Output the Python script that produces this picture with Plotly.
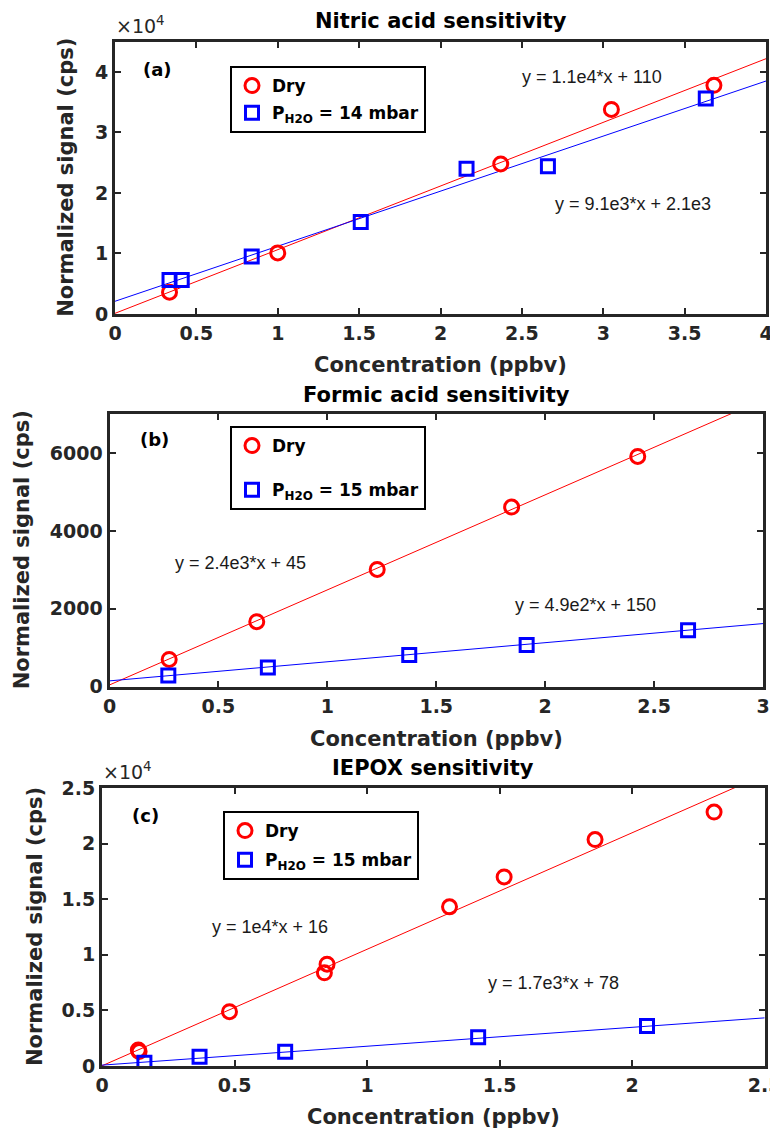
import plotly.graph_objects as go
from plotly.subplots import make_subplots

W, H = 770, 1130

# ---- Panel (a): nitric acid ----
a_dry_x = [0.335, 1.0, 2.37, 3.05, 3.68]
a_dry_y = [3600, 10100, 24800, 33800, 37800]
a_wet_x = [0.335, 0.41, 0.84, 1.51, 2.16, 2.66, 3.63]
a_wet_y = [5600, 5600, 9500, 15200, 24000, 24400, 35600]
a_fit_dry = [10520, 110]
a_fit_wet = [9100, 2100]
a_xticks = [0, 0.5, 1, 1.5, 2, 2.5, 3, 3.5, 4]
a_xtext = ["0", "0.5", "1", "1.5", "2", "2.5", "3", "3.5", "4"]
a_yticks = [0, 10000, 20000, 30000, 40000]
a_ytext = ["0", "1", "2", "3", "4"]

# ---- Panel (b): formic acid ----
b_dry_x = [0.274, 0.676, 1.229, 1.846, 2.425]
b_dry_y = [700, 1670, 3010, 4610, 5910]
b_wet_x = [0.27, 0.727, 1.376, 1.915, 2.656]
b_wet_y = [290, 490, 815, 1070, 1450]
b_fit_dry = [2440, 45]
b_fit_wet = [490, 150]
b_xticks = [0, 0.5, 1, 1.5, 2, 2.5, 3]
b_xtext = ["0", "0.5", "1", "1.5", "2", "2.5", "3"]
b_yticks = [0, 2000, 4000, 6000]
b_ytext = ["0", "2000", "4000", "6000"]

# ---- Panel (c): IEPOX ----
c_dry_x = [0.137, 0.14, 0.481, 0.839, 0.849, 1.311, 1.517, 1.86, 2.309]
c_dry_y = [1440, 1300, 4880, 8380, 9160, 14310, 17000, 20360, 22840]
c_wet_x = [0.16, 0.368, 0.691, 1.419, 2.056]
c_wet_y = [300, 840, 1290, 2575, 3590]
c_fit_dry = [10480, 16]
c_fit_wet = [1700, 78]
c_xticks = [0, 0.5, 1, 1.5, 2, 2.5]
c_xtext = ["0", "0.5", "1", "1.5", "2", "2.5"]
c_yticks = [0, 5000, 10000, 15000, 20000, 25000]
c_ytext = ["0", "0.5", "1", "1.5", "2", "2.5"]

titles = ["Nitric acid sensitivity", "Formic acid sensitivity", "IEPOX sensitivity"]
panel_tags = ["(a)", "(b)", "(c)"]
wet_names = ["P<sub>H2O</sub> = 14 mbar", "P<sub>H2O</sub> = 15 mbar", "P<sub>H2O</sub> = 15 mbar"]

RED = "#ff0000"
BLUE = "#0000ff"
INK = "#262626"
BOLD = "DejaVu Sans"


def px_x(p):
    return p / W


def px_y(p):
    return 1 - p / H


def fmt_slope(v):
    m, e = f"{v:.2g}".split("e")
    return f"{m}e{int(e)}"


def fmt_icpt(v):
    s = f"{v:.2g}"
    if abs(float(s)) >= 1000:
        m, e = s.split("e")
        return f"{m}e{int(e)}"
    return str(int(float(s)))


def eq_text(fit):
    return f"y = {fmt_slope(fit[0])}*x + {fmt_icpt(fit[1])}"


panels = [
    dict(dx=a_dry_x, dy=a_dry_y, wx=a_wet_x, wy=a_wet_y, fd=a_fit_dry, fw=a_fit_wet,
         xt=a_xticks, xl=a_xtext, yt=a_yticks, yl=a_ytext, xr=[0, 4], yr=[0, 45000],
         box=(115, 766, 41.7, 314), exp=True,
         leg=(230, 66), gap=2, tag=(157, 69),
         eqs=[(592, 77), (633, 204)], title_y=21, xlab_y=365),
    dict(dx=b_dry_x, dy=b_dry_y, wx=b_wet_x, wy=b_wet_y, fd=b_fit_dry, fw=b_fit_wet,
         xt=b_xticks, xl=b_xtext, yt=b_yticks, yl=b_ytext, xr=[0, 3], yr=[0, 7000],
         box=(109.5, 763, 414, 686.7), exp=False,
         leg=(230, 426), gap=19, tag=(154, 440),
         eqs=[(240, 563), (585, 605)], title_y=395, xlab_y=739),
    dict(dx=c_dry_x, dy=c_dry_y, wx=c_wet_x, wy=c_wet_y, fd=c_fit_dry, fw=c_fit_wet,
         xt=c_xticks, xl=c_xtext, yt=c_yticks, yl=c_ytext, xr=[0, 2.5], yr=[0, 25000],
         box=(102, 764.7, 788, 1066), exp=True,
         leg=(223, 811), gap=4, tag=(145, 815),
         eqs=[(270, 927), (553, 983)], title_y=768, xlab_y=1117),
]

fig = make_subplots(rows=3, cols=1)
annotations = []

for i, p in enumerate(panels):
    row = i + 1
    leg_id = "legend" if i == 0 else f"legend{i + 1}"
    x0, x1 = p["xr"]
    # fitted lines
    for fit, col in ((p["fd"], RED), (p["fw"], BLUE)):
        fig.add_trace(go.Scatter(
            x=[x0, x1], y=[fit[0] * x0 + fit[1], fit[0] * x1 + fit[1]],
            mode="lines", line=dict(color=col, width=1), showlegend=False,
            hoverinfo="skip"), row=row, col=1)
    # measurements
    fig.add_trace(go.Scatter(
        x=p["dx"], y=p["dy"], mode="markers", name="Dry",
        marker=dict(symbol="circle-open", size=14, color=RED, line=dict(width=3, color=RED)),
        legend=leg_id, legendgroup=f"dry{i}"), row=row, col=1)
    fig.add_trace(go.Scatter(
        x=p["wx"], y=p["wy"], mode="markers", name=wet_names[i],
        marker=dict(symbol="square-open", size=13, color=BLUE, line=dict(width=3, color=BLUE)),
        legend=leg_id, legendgroup=f"wet{i}"), row=row, col=1)

    L, R, T, B = p["box"]
    axis_common = dict(
        showline=True, linewidth=3, linecolor=INK, mirror="allticks",
        ticks="inside", ticklen=6, tickwidth=2, tickcolor=INK,
        showgrid=False, zeroline=False, ticklabeloverflow="allow", automargin=False,
        tickfont=dict(family=BOLD, size=19, color=INK, weight="bold"),
    )
    fig.update_xaxes(domain=[px_x(L), px_x(R)], range=p["xr"], tickmode="array",
                     tickvals=p["xt"], ticktext=p["xl"], **axis_common, row=row, col=1)
    fig.update_yaxes(domain=[px_y(B), px_y(T)], range=p["yr"], tickmode="array",
                     tickvals=p["yt"], ticktext=p["yl"], **axis_common, row=row, col=1)

    fig.update_layout({leg_id: dict(
        x=px_x(p["leg"][0]), y=px_y(p["leg"][1]), xanchor="left", yanchor="top",
        xref="paper", yref="paper",
        bgcolor="white", bordercolor="#000000", borderwidth=2,
        font=dict(family=BOLD, size=17, color="#000000", weight="bold"),
        tracegroupgap=p["gap"], itemwidth=30,
    )})

    cx = (L + R) / 2
    # panel title
    annotations.append(dict(text=titles[i], x=px_x(cx), y=px_y(p["title_y"]),
                            xref="paper", yref="paper", showarrow=False,
                            xanchor="center", yanchor="middle",
                            font=dict(family=BOLD, size=21, color="#000000", weight="bold")))
    # x axis title
    annotations.append(dict(text="Concentration (ppbv)", x=px_x(cx), y=px_y(p["xlab_y"]),
                            xref="paper", yref="paper", showarrow=False,
                            xanchor="center", yanchor="middle",
                            font=dict(family=BOLD, size=21, color=INK, weight="bold")))
    # y axis title
    ylab_x = [66, 22, 35][i]
    annotations.append(dict(text="Normalized signal (cps)", x=px_x(ylab_x), y=px_y((T + B) / 2),
                            xref="paper", yref="paper", showarrow=False, textangle=-90,
                            xanchor="center", yanchor="middle",
                            font=dict(family=BOLD, size=21, color=INK, weight="bold")))
    # panel tag
    annotations.append(dict(text=panel_tags[i], x=px_x(p["tag"][0]), y=px_y(p["tag"][1]),
                            xref="paper", yref="paper", showarrow=False,
                            xanchor="center", yanchor="middle",
                            font=dict(family=BOLD, size=18, color="#000000", weight="bold")))
    # exponent marker
    if p["exp"]:
        annotations.append(dict(text="\u00d710<sup>4</sup>", x=px_x(L - 1), y=px_y(T - 3),
                                xref="paper", yref="paper", showarrow=False,
                                xanchor="left", yanchor="bottom",
                                font=dict(family="DejaVu Sans", size=19, color=INK)))
    # fit equations
    for fit, pos in zip((p["fd"], p["fw"]), p["eqs"]):
        annotations.append(dict(text=eq_text(fit), x=px_x(pos[0]), y=px_y(pos[1]),
                                xref="paper", yref="paper", showarrow=False,
                                xanchor="center", yanchor="middle",
                                font=dict(family="Liberation Sans", size=18, color="#1a1a1a")))

fig.update_layout(
    width=W, height=H,
    margin=dict(l=0, r=0, t=0, b=0),
    paper_bgcolor="white", plot_bgcolor="white",
    annotations=annotations,
)

fig.write_html("out.html")
